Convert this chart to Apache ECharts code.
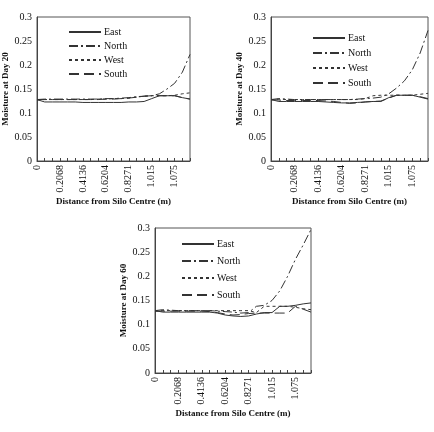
<!DOCTYPE html>
<html>
<head>
<meta charset="utf-8">
<script src="https://cdn.jsdelivr.net/npm/echarts@6/dist/echarts.min.js"></script>
<style>
  html, body { margin: 0; padding: 0; background: #fff; }
  #chart { width: 434px; height: 432px; }
</style>
</head>
<body>
<div id="chart"></div>
<script>
// distance from silo centre (only every 3rd label is printed)
const distances = ['0', '0.0689', '0.1379', '0.2068', '0.2757', '0.3447', '0.4136', '0.4825', '0.5515',
  '0.6204', '0.6893', '0.7582', '0.8271', '0.8897', '0.9524', '1.015', '1.035', '1.055', '1.075', '1.095', '1.115']
const yTicks = [0, 0.05, 0.1, 0.15, 0.2, 0.25, 0.3]
const sides = ['East', 'North', 'West', 'South']

// day 20
const eastDay20 = [0.128, 0.123, 0.123, 0.123, 0.123, 0.123, 0.122, 0.122, 0.122, 0.122, 0.122, 0.122, 0.123, 0.123, 0.124, 0.130, 0.136, 0.136, 0.136, 0.132, 0.129]
const northDay20 = [0.128, 0.129, 0.129, 0.129, 0.129, 0.129, 0.129, 0.129, 0.129, 0.130, 0.130, 0.131, 0.132, 0.134, 0.135, 0.136, 0.140, 0.150, 0.162, 0.185, 0.222]
const westDay20 = [0.127, 0.128, 0.128, 0.128, 0.128, 0.128, 0.128, 0.128, 0.129, 0.129, 0.130, 0.130, 0.131, 0.133, 0.135, 0.136, 0.136, 0.136, 0.137, 0.140, 0.142]
const southDay20 = [0.128, 0.128, 0.128, 0.128, 0.128, 0.128, 0.128, 0.128, 0.128, 0.129, 0.129, 0.130, 0.131, 0.133, 0.135, 0.136, 0.136, 0.136, 0.136, 0.132, 0.129]

// day 40
const eastDay40 = [0.128, 0.124, 0.124, 0.124, 0.124, 0.124, 0.124, 0.123, 0.122, 0.121, 0.121, 0.122, 0.123, 0.124, 0.124, 0.132, 0.137, 0.137, 0.137, 0.133, 0.129]
const northDay40 = [0.128, 0.130, 0.129, 0.128, 0.128, 0.128, 0.128, 0.128, 0.128, 0.128, 0.128, 0.129, 0.130, 0.131, 0.133, 0.140, 0.152, 0.167, 0.190, 0.225, 0.272]
const westDay40 = [0.127, 0.129, 0.128, 0.128, 0.128, 0.128, 0.128, 0.128, 0.128, 0.128, 0.128, 0.128, 0.130, 0.136, 0.137, 0.137, 0.137, 0.137, 0.137, 0.139, 0.141]
const southDay40 = [0.128, 0.127, 0.126, 0.126, 0.126, 0.126, 0.126, 0.125, 0.124, 0.122, 0.120, 0.121, 0.123, 0.124, 0.125, 0.131, 0.137, 0.137, 0.137, 0.134, 0.130]

// day 60
const eastDay60 = [0.129, 0.126, 0.126, 0.126, 0.126, 0.126, 0.126, 0.126, 0.124, 0.120, 0.118, 0.117, 0.118, 0.122, 0.125, 0.125, 0.138, 0.138, 0.140, 0.143, 0.145]
const northDay60 = [0.129, 0.131, 0.130, 0.129, 0.129, 0.129, 0.129, 0.129, 0.128, 0.127, 0.126, 0.124, 0.125, 0.138, 0.140, 0.150, 0.170, 0.200, 0.235, 0.265, 0.297]
const westDay60 = [0.128, 0.129, 0.129, 0.129, 0.129, 0.129, 0.129, 0.129, 0.129, 0.129, 0.129, 0.129, 0.129, 0.125, 0.138, 0.138, 0.138, 0.138, 0.136, 0.133, 0.131]
const southDay60 = [0.128, 0.128, 0.128, 0.128, 0.128, 0.128, 0.128, 0.127, 0.125, 0.122, 0.120, 0.121, 0.123, 0.124, 0.124, 0.124, 0.124, 0.124, 0.138, 0.132, 0.126]

const panels = [
  { day: 20, data: [eastDay20, northDay20, westDay20, southDay20], grid: { left: 36, top: 17, width: 154, height: 144 }, legend: { left: 68, top: 27, gap: 4 } },
  { day: 40, data: [eastDay40, northDay40, westDay40, southDay40], grid: { left: 271, top: 17, width: 157, height: 144 }, legend: { left: 312, top: 33, gap: 5 } },
  { day: 60, data: [eastDay60, northDay60, westDay60, southDay60], grid: { left: 155, top: 228, width: 156, height: 145 }, legend: { left: 181, top: 239, gap: 7 } }
]

const dashes = [
  'solid',
  [9, 3, 2, 3],
  [3, 3],
  [10, 5]
]
const ink = '#333'
const font = 'Liberation Serif'

const chartInstance = echarts.init(document.getElementById('chart'), null, { renderer: 'canvas' })

const option = {
  backgroundColor: '#fff',
  animation: false,
  textStyle: { fontFamily: font },
  grid: panels.map(p => Object.assign({ show: true, borderColor: '#555', borderWidth: 1, backgroundColor: 'transparent' }, p.grid)),
  legend: panels.map(p => ({
    orient: 'vertical',
    left: p.legend.left,
    top: p.legend.top,
    itemWidth: 32,
    itemHeight: 8,
    itemGap: p.legend.gap,
    padding: 0,
    selectedMode: false,
    data: sides,
    itemStyle: { opacity: 0 },
    textStyle: { fontFamily: font, fontSize: 10, color: '#111', padding: [0, 0, 0, -2] }
  })),
  xAxis: panels.map((p, i) => ({
    type: 'category',
    gridIndex: i,
    data: distances,
    boundaryGap: false,
    name: 'Distance from Silo Centre (m)',
    nameLocation: 'middle',
    nameGap: 36,
    nameTextStyle: { fontFamily: font, fontSize: 9, fontWeight: 'bold', color: '#111' },
    axisLine: { lineStyle: { color: '#444' } },
    axisTick: { show: true, inside: true, length: 3, interval: 0, lineStyle: { color: '#444' } },
    axisLabel: { interval: 2, rotate: 90, margin: 4, fontFamily: font, fontSize: 10, color: '#111' },
    splitLine: { show: false }
  })),
  yAxis: panels.map((p, i) => ({
    type: 'value',
    gridIndex: i,
    min: 0,
    max: 0.3,
    interval: 0.05,
    name: 'Moisture at Day ' + p.day,
    nameLocation: 'middle',
    nameGap: 27,
    nameTextStyle: { fontFamily: font, fontSize: 9, fontWeight: 'bold', color: '#111' },
    axisLine: { show: true, lineStyle: { color: '#444' } },
    axisTick: { show: false },
    axisLabel: {
      margin: 5,
      fontFamily: font,
      fontSize: 10,
      color: '#111',
      formatter: v => (yTicks.includes(+v.toFixed(2)) ? String(+v.toFixed(2)) : '')
    },
    splitLine: { show: false }
  })),
  series: []
}

panels.forEach((p, i) => {
  sides.forEach((name, k) => {
    option.series.push({
      name: name,
      type: 'line',
      xAxisIndex: i,
      yAxisIndex: i,
      data: p.data[k],
      symbol: 'none',
      smooth: false,
      itemStyle: { color: ink },
      lineStyle: { color: ink, width: 1, type: dashes[k] }
    })
  })
})

chartInstance.setOption(option)
</script>
</body>
</html>
